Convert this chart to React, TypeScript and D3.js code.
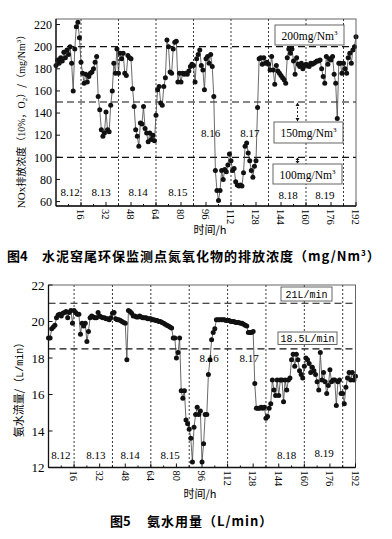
import * as d3 from "d3";

// hourly readings, index = hour (0..192)
const noxValues = [
  183, 188, 185, 190, 187, 195, 190, 197, 193, 200, 185, 160, 198, 218, 222, 208, 186,
  176, 167, 175, 168, 173, 176, 177, 180, 186, 191, 155, 143, 125, 119, 122, 141, 125, 123, 147, 160, 185, 176, 198, 176,
  194, 189, 194, 176, 174, 192, 190, 189, 162, 146, 125, 119, 110, 131, 130, 146, 126, 122, 114, 122, 116, 120, 115, 138,
  161, 164, 149, 147, 164, 172, 206, 200, 177, 176, 198, 204, 205, 168, 176, 168, 176, 175, 176, 175, 178, 182, 184, 183,
  168, 189, 193, 197, 183, 179, 161, 189, 191, 185, 193, 182, 155, 88, 70, 61, 70, 88, 80, 89, 87, 93, 103, 97,
  88, 90, 78, 75, 74, 75, 74, 86, 110, 113, 104, 97, 88, 82, 92, 97, 145, 189, 190, 184, 190, 185, 186, 184,
  179, 191, 179, 166, 183, 178, 176, 174, 172, 170, 167, 190, 198, 194, 198, 187, 175, 190, 184, 182, 185, 180, 183, 184,
  183, 182, 185, 184, 185, 186, 187, 187, 188, 180, 173, 167, 191, 184, 189, 188, 191, 175, 167, 135, 185, 185, 176, 185,
  180, 176, 190, 194, 185, 197, 200, 209,
];

const ammoniaValues = [
  19.1, 19.1, 19.6, 19.7, 19.8, 20.2, 20.35, 20.4, 20.3, 20.45, 20.5, 20.55, 20.2, 20.5, 20.6, 19.9, 20.6,
  20.5, 20.4, 20.4, 19.3, 19.9, 19.75, 19.9, 18.9, 19.45, 20.2, 20.3, 20.25, 20.2, 20.2, 20.5, 20.3, 20.25, 20.2, 20.2, 20.15, 20.15, 20.1, 20.2, 20.45,
  20.5, 20.15, 20.1, 20.1, 20.05, 20.0, 19.95, 19.9, 17.9, 20.6, 20.55, 20.45, 20.3, 20.3, 20.25, 20.25, 20.3, 20.25, 20.2, 20.2, 20.2, 20.15, 20.15, 20.15,
  20.1, 20.1, 20.05, 20.05, 20.0, 20.0, 19.95, 19.9, 19.85, 19.8, 19.75, 19.7, 19.65, 19.1, 19.1, 18.0, 18.3, 19.1, 16.2, 15.8, 16.2, 14.6, 14.4, 14.1,
  13.6, 12.3, 14.2, 14.9, 15.3, 14.9, 15.1, 12.3, 13.3, 14.9, 14.9, 17.1, 17.9, 19.0, 19.4, 19.6, 20.1, 20.1, 20.1, 20.1, 20.1, 20.1, 20.05, 20.05,
  20.05, 20.0, 20.0, 20.0, 19.95, 19.95, 19.95, 19.9, 19.9, 19.85, 19.8, 19.75, 19.4, 19.4, 19.4, 19.45, 16.6, 15.25, 15.25, 15.25, 15.3, 15.25, 15.3, 14.7,
  14.8, 15.25, 15.5, 16.8, 16.25, 15.95, 16.8, 15.95, 16.8, 16.8, 15.6, 16.8, 16.25, 16.8, 16.9, 17.9, 18.2, 17.55, 18.2, 17.9, 17.3, 17.1, 16.9, 17.55,
  18.0, 17.9, 17.7, 17.2, 17.5, 17.3, 17.1, 16.7, 16.25, 18.3, 16.8, 17.2, 16.7, 16.05, 16.5, 17.35, 16.7, 16.8, 16.8, 15.4, 16.7, 16.8, 16.05, 16.05,
  15.5, 16.4, 16.9, 17.2, 16.8, 17.2, 16.8, 17.0,
];

const hourTicks = [16, 32, 48, 64, 80, 96, 112, 128, 144, 160, 176, 192];
const dayBoundaries = [16, 40, 64, 88, 112, 136, 160, 184];
const dayLabels = ["8.12", "8.13", "8.14", "8.15", "8.16", "8.17", "8.18", "8.19"];
const noxTicks = [60, 80, 100, 120, 140, 160, 180, 200, 220];
const ammoniaTicks = [12, 14, 16, 18, 20, 22];
const noxLimits = [200, 150, 100];
const ammoniaLimits = [21, 18.5];

const SERIF = "'Liberation Serif', 'DejaVu Serif', serif";
const CJK = "'Noto Sans CJK SC', sans-serif";
const MONO = "'Liberation Mono', 'DejaVu Sans Mono', monospace";

function Plot({ values, xRange, yDomain, yRange, yTicks, limits, labelPos, xTitleX, xTitleY }) {
  const x = d3.scaleLinear().domain([0, 192]).range(xRange);
  const y = d3.scaleLinear().domain(yDomain).range(yRange);
  const pts = values.map((v, i) => [i, v]);
  const line = d3.line().x(d => x(d[0])).y(d => y(d[1]));
  const [x0, x1] = xRange;
  const [yb, yt] = yRange;
  return (
    <g>
      {dayBoundaries.map(h => (
        <line key={"d" + h} x1={x(h)} x2={x(h)} y1={yt} y2={yb} stroke="#222" strokeWidth={0.9} strokeDasharray="2,2" />
      ))}
      {limits.map(v => (
        <line key={"l" + v} x1={x0} x2={x1} y1={y(v)} y2={y(v)} stroke="#111" strokeWidth={1.2} strokeDasharray="7,4" />
      ))}
      <path d={line(pts)} fill="none" stroke="#444" strokeWidth={0.8} />
      {pts.map((d, i) => (
        <circle key={i} cx={x(d[0])} cy={y(d[1])} r={2.5} fill="#111" />
      ))}
      <rect x={x0} y={yt} width={x1 - x0} height={yb - yt} fill="none" stroke="#555" strokeWidth={0.9} />
      <line x1={x0} x2={x0} y1={yt} y2={yb} stroke="#111" strokeWidth={1.3} />
      <line x1={x0} x2={x1} y1={yb} y2={yb} stroke="#111" strokeWidth={1.3} />
      {yTicks.map(t => (
        <g key={"y" + t}>
          <line x1={x0} x2={x0 + 4} y1={y(t)} y2={y(t)} stroke="#111" />
          <text x={x0 - 4} y={y(t)} dy="0.35em" textAnchor="end" fontFamily={SERIF} fontSize={labelPos.yFont}>{t}</text>
        </g>
      ))}
      {hourTicks.map(t => (
        <g key={"x" + t}>
          <line x1={x(t)} x2={x(t)} y1={yb} y2={yb - 4} stroke="#111" />
          <line x1={x(t - 8)} x2={x(t - 8)} y1={yb} y2={yb - 2} stroke="#111" />
          <text transform={`translate(${x(t)},${yb + 3}) rotate(90)`} dy="0.35em" textAnchor="start" fontFamily={SERIF} fontSize={10.5}>{t}</text>
        </g>
      ))}
      {dayLabels.map((s, i) => (
        <text key={s} x={x(labelPos.h[i])} y={y(labelPos.v[i])} textAnchor="middle" fontFamily={SERIF} fontSize={11}>{s}</text>
      ))}
      <text x={xTitleX} y={xTitleY} textAnchor="middle" fontFamily={CJK} fontSize={11}>时间/h</text>
    </g>
  );
}

function Box({ x, y, w, h, children }) {
  return (
    <g>
      <rect x={x} y={y} width={w} height={h} fill="#fff" stroke="#555" strokeWidth={0.9} />
      {children}
    </g>
  );
}

export default function App() {
  return (
    <svg width={392} height={539} style={{ position: "absolute", left: 0, top: 0, background: "#fff" }}>
      <rect width={392} height={539} fill="#fff" />
      <Plot
        values={noxValues}
        xRange={[56, 356]}
        yDomain={[56, 225]}
        yRange={[206, 19]}
        yTicks={noxTicks}
        limits={noxLimits}
        labelPos={{ yFont: 12, h: [9, 28.8, 52.5, 78, 99, 124, 148.5, 172], v: [65, 65, 65, 65, 118.4, 118.4, 62.3, 62.3] }}
        xTitleX={210}
        xTitleY={234}
      />
      {/* limit annotations, top chart */}
      <Box x={275} y={25} w={69} h={20}>
        <text x={309.5} y={39.5} textAnchor="middle" fontFamily={SERIF} fontSize={11.5}>200mg/Nm<tspan fontSize={7} dy={-5}>3</tspan></text>
      </Box>
      <Box x={274} y={122} w={69} h={21}>
        <text x={308.5} y={137} textAnchor="middle" fontFamily={SERIF} fontSize={11.5}>150mg/Nm<tspan fontSize={7} dy={-5}>3</tspan></text>
      </Box>
      <Box x={273} y={164} w={69} h={20}>
        <text x={307.5} y={178.5} textAnchor="middle" fontFamily={SERIF} fontSize={11.5}>100mg/Nm<tspan fontSize={7} dy={-5}>3</tspan></text>
      </Box>
      <line x1={297.5} x2={297.5} y1={103} y2={121} stroke="#111" strokeWidth={0.9} strokeDasharray="2,2" />
      <path d="M295.5,106 L297.5,102.5 L299.5,106 Z M295.5,118 L297.5,121.5 L299.5,118 Z" fill="#111" />
      <path d="M295.5,161 L297.5,163.5 L299.5,161 Z M295.5,160 L297.5,157.5 L299.5,160 Z" fill="#111" />
      <line x1={297.5} x2={297.5} y1={158} y2={163} stroke="#111" strokeWidth={0.9} />

      <text transform="translate(25,119) rotate(-90)" textAnchor="middle" fontSize={10} fontFamily={CJK}>
        <tspan fontFamily={SERIF} fontSize={11}>NOx</tspan>排放浓度（<tspan fontFamily={SERIF}>10%</tspan>，<tspan fontFamily={SERIF}>O</tspan><tspan fontFamily={SERIF} fontSize={7} dy={2}>2</tspan><tspan dy={-2}>）/（</tspan><tspan fontFamily={SERIF}>mg/Nm</tspan><tspan fontFamily={SERIF} fontSize={7} dy={-4}>3</tspan><tspan dy={4}>）</tspan>
      </text>

      <text x={7} y={261} fontFamily={CJK} fontSize={13} fontWeight={700}>图4</text>
      <text x={42} y={261} fontFamily={CJK} fontSize={13} fontWeight={700} letterSpacing={1}>
        水泥窑尾环保监测点氮氧化物的排放浓度（mg/Nm<tspan fontSize={8} dy={-5}>3</tspan><tspan dy={5}>）</tspan>
      </text>

      <Plot
        values={ammoniaValues}
        xRange={[48.5, 355.5]}
        yDomain={[12, 22]}
        yRange={[467.5, 285]}
        yTicks={ammoniaTicks}
        limits={ammoniaLimits}
        labelPos={{ yFont: 13, h: [7.8, 29.7, 51, 76, 100.4, 125.4, 149, 172.3], v: [12.47, 12.47, 12.47, 12.47, 17.78, 17.78, 12.45, 12.55] }}
        xTitleX={200}
        xTitleY={498}
      />
      <Box x={281} y={287} w={51} h={14}>
        <text x={306.5} y={298} textAnchor="middle" fontFamily={MONO} fontSize={10}>21L/min</text>
      </Box>
      <Box x={278} y={332} w={59} h={12.5}>
        <text x={307.5} y={342} textAnchor="middle" fontFamily={MONO} fontSize={10}>18.5L/min</text>
      </Box>

      <text transform="translate(23,387) rotate(-90)" textAnchor="middle" fontSize={11} fontFamily={CJK}>
        氨水流量/（<tspan fontFamily={MONO} fontSize={10}>L/min</tspan>）
      </text>

      <text x={110} y={526} fontFamily={CJK} fontSize={13} fontWeight={700}>图5</text>
      <text x={147} y={526} fontFamily={CJK} fontSize={13} fontWeight={700} letterSpacing={1}>氨水用量（L/min）</text>
    </svg>
  );
}
